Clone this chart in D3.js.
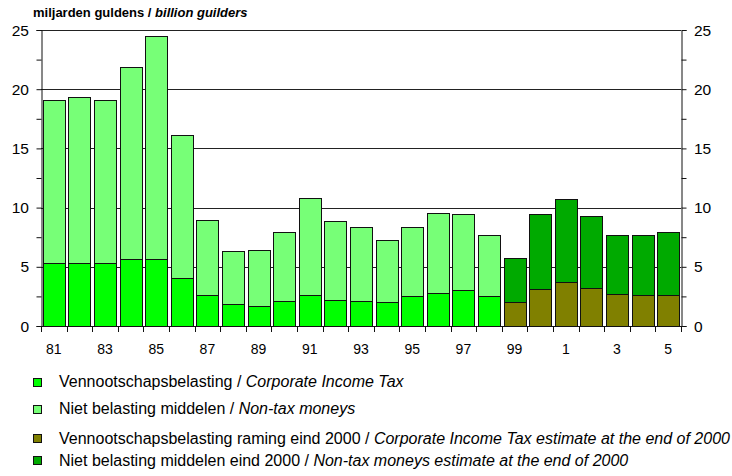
<!DOCTYPE html>
<html>
<head>
<meta charset="utf-8">
<script src="https://cdn.jsdelivr.net/npm/d3@7"></script>
<style>
  html, body { margin: 0; padding: 0; background: #fff; }
  svg { display: block; font-family: "Liberation Sans", Arial, sans-serif; }
</style>
</head>
<body>
<svg id="chart" width="732" height="476"></svg>
<script>
// Years 1981–2005
const years = d3.range(1981, 2006);
const yearLabels = ["81", "83", "85", "87", "89", "91", "93", "95", "97", "99", "1", "3", "5"];

// Realised figures (billion guilders), 1981–1998
const corporateTax = [5.35, 5.35, 5.35, 5.63, 5.63, 4.08, 2.65, 1.89, 1.66, 2.08, 2.59, 2.17, 2.13, 2.04, 2.55, 2.80, 3.00, 2.55,
                      null, null, null, null, null, null, null];
const nonTaxMoneys = [13.76, 14.02, 13.75, 16.22, 18.87, 12.02, 6.30, 4.41, 4.79, 5.83, 8.19, 6.70, 6.19, 5.19, 5.77, 6.78, 6.50, 5.10,
                      null, null, null, null, null, null, null];

// Estimates made at the end of 2000, 1999–2005
const corporateTaxEstimate = [null, null, null, null, null, null, null, null, null, null, null, null, null, null, null, null, null, null,
                              2.04, 3.14, 3.75, 3.22, 2.72, 2.63, 2.63];
const nonTaxEstimate = [null, null, null, null, null, null, null, null, null, null, null, null, null, null, null, null, null, null,
                        3.67, 6.36, 6.98, 6.11, 4.93, 5.02, 5.27];

const yTicks = [0, 5, 10, 15, 20, 25];
const yMinorTicks = d3.range(0, 25.01, 2.5);

const seriesInfo = [
  { key: "corp",    values: corporateTax,         color: "#00ff00",
    nl: "Vennootschapsbelasting / ", en: "Corporate Income Tax" },
  { key: "nontax",  values: nonTaxMoneys,         color: "#77ff77",
    nl: "Niet belasting middelen / ", en: "Non-tax moneys" },
  { key: "corpEst", values: corporateTaxEstimate, color: "#808000",
    nl: "Vennootschapsbelasting raming eind 2000 / ", en: "Corporate Income Tax estimate at the end of 2000" },
  { key: "nonEst",  values: nonTaxEstimate,       color: "#00aa00",
    nl: "Niet belasting middelen eind 2000 / ", en: "Non-tax moneys estimate at the end of 2000" }
];

const svg = d3.select("#chart");
const plotLeft = 41, plotRight = 681, plotTop = 30, plotBottom = 326;

const x = d3.scaleBand().domain(years).range([plotLeft, plotRight]).paddingInner(0.14).paddingOuter(0.07);
const y = d3.scaleLinear().domain([0, 25]).range([plotBottom, plotTop]);

// Title
const title = svg.append("text").attr("x", 33).attr("y", 17)
  .attr("font-size", 13).attr("font-weight", "bold").attr("fill", "#000");
title.append("tspan").text("miljarden guldens / ");
title.append("tspan").attr("font-style", "italic").text("billion guilders");

// Horizontal grid lines
svg.append("g").selectAll("line").data(yTicks.filter(d => d > 0)).join("line")
  .attr("x1", plotLeft).attr("x2", plotRight)
  .attr("y1", d => Math.round(y(d)) + 0.5).attr("y2", d => Math.round(y(d)) + 0.5)
  .attr("stroke", "#222").attr("stroke-width", 1);

// Stacked bars: lower segment is the tax, upper segment the non-tax moneys
const stacks = years.map((yr, i) => {
  const isEst = corporateTax[i] == null;
  const low = isEst ? corporateTaxEstimate[i] : corporateTax[i];
  const high = isEst ? nonTaxEstimate[i] : nonTaxMoneys[i];
  return [
    { yr, y0: 0, y1: low, color: isEst ? seriesInfo[2].color : seriesInfo[0].color },
    { yr, y0: low, y1: low + high, color: isEst ? seriesInfo[3].color : seriesInfo[1].color }
  ];
}).flat();

svg.append("g").selectAll("rect").data(stacks).join("rect")
  .attr("x", d => Math.round(x(d.yr)) + 0.5)
  .attr("width", Math.round(x.bandwidth()))
  .attr("y", d => Math.round(y(d.y1)) + 0.5)
  .attr("height", d => Math.round(y(d.y0)) - Math.round(y(d.y1)))
  .attr("fill", d => d.color)
  .attr("stroke", "#111").attr("stroke-width", 1);

// Left axis
const leftAxis = svg.append("g").attr("transform", `translate(${plotLeft + 0.5},0)`);
leftAxis.call(d3.axisLeft(y).tickValues(yMinorTicks).tickSize(5).tickFormat(""));
leftAxis.selectAll(".domain").attr("stroke", "#111");
leftAxis.selectAll(".tick line").attr("stroke", "#111");
svg.append("g").selectAll("text").data(yTicks).join("text")
  .attr("x", 29).attr("y", d => y(d)).attr("dy", "0.36em")
  .attr("text-anchor", "end").attr("font-size", 15.5).text(d => d);

// Right axis
const rightAxis = svg.append("g").attr("transform", `translate(${plotRight + 0.5},0)`);
rightAxis.call(d3.axisRight(y).tickValues(yMinorTicks).tickSize(5).tickFormat(""));
rightAxis.selectAll(".domain").attr("stroke", "#111");
rightAxis.selectAll(".tick line").attr("stroke", "#111");
svg.append("g").selectAll("text").data(yTicks).join("text")
  .attr("x", 694).attr("y", d => y(d)).attr("dy", "0.36em")
  .attr("text-anchor", "start").attr("font-size", 15.5).text(d => d);

// Bottom axis with ticks between categories
const boundaries = d3.range(0, years.length + 1).map(i => plotLeft + i * (plotRight - plotLeft) / years.length);
const xAxisG = svg.append("g");
xAxisG.append("line").attr("x1", plotLeft).attr("x2", plotRight + 1)
  .attr("y1", plotBottom + 0.5).attr("y2", plotBottom + 0.5).attr("stroke", "#111");
xAxisG.selectAll("line.tk").data(boundaries).join("line").attr("class", "tk")
  .attr("x1", d => Math.round(d) + 0.5).attr("x2", d => Math.round(d) + 0.5)
  .attr("y1", plotBottom).attr("y2", plotBottom + 6).attr("stroke", "#111");
xAxisG.selectAll("text").data(years.filter((d, i) => i % 2 === 0)).join("text")
  .attr("x", d => x(d) + x.bandwidth() / 2).attr("y", 354)
  .attr("text-anchor", "middle").attr("font-size", 14)
  .text((d, i) => yearLabels[i]);

// Legend
const legendRows = [381.5, 408.5, 438, 460];
const legend = svg.append("g");
seriesInfo.forEach((s, i) => {
  const cy = legendRows[i];
  legend.append("rect").attr("x", 33.5).attr("y", Math.round(cy - 4) + 0.5).attr("width", 8).attr("height", 8)
    .attr("fill", s.color).attr("stroke", "#111");
  const t = legend.append("text").attr("x", 59).attr("y", cy).attr("dy", "0.36em")
    .attr("font-size", 16);
  t.append("tspan").text(s.nl);
  t.append("tspan").attr("font-style", "italic").text(s.en);
});
</script>
</body>
</html>
